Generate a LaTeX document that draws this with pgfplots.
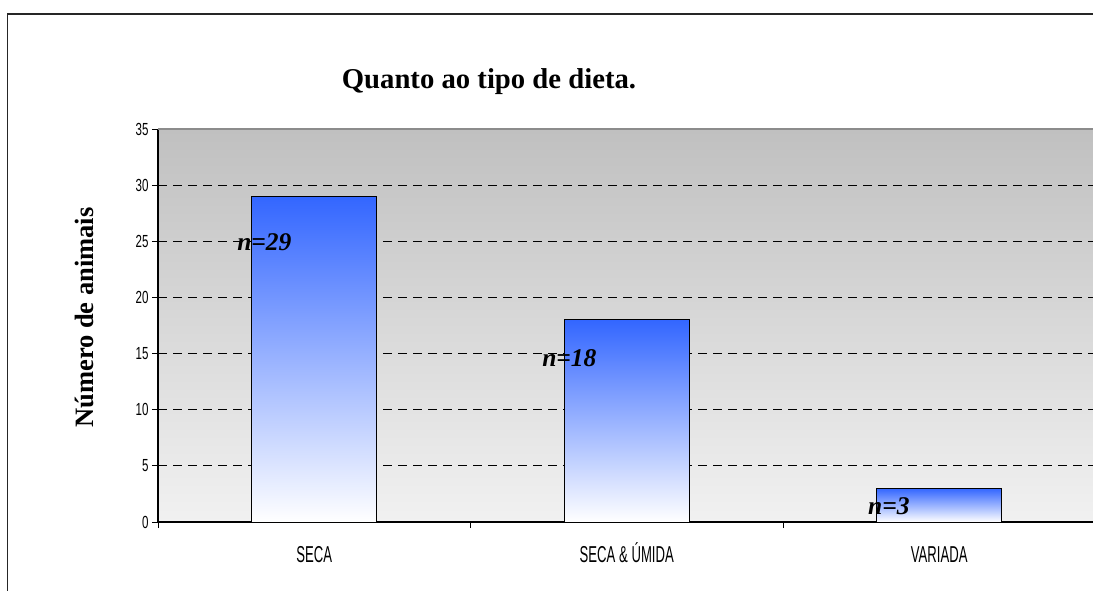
\documentclass[border=0pt]{standalone}
\usepackage{fontspec}
\setmainfont{Liberation Serif}
\newfontfamily\narrowsans[FakeStretch=0.66]{Liberation Sans}
\newfontfamily\narrowersans[FakeStretch=0.57]{Liberation Sans}
\usepackage{pgfplots}
\pgfplotsset{compat=1.18}
\definecolor{barblue}{RGB}{51,102,255}
\definecolor{bgtop}{RGB}{192,192,192}
\definecolor{bgbot}{RGB}{241,241,241}
\begin{document}
\begin{tikzpicture}[x=1pt,y=1pt]
\useasboundingbox (0pt,0pt) rectangle (1093pt,590pt);
\fill[white] (0pt,0pt) rectangle (1093pt,590pt);
\clip (0pt,0pt) rectangle (1093pt,590pt);
\draw[line width=1.6pt, black!85] (7.5pt,-20pt) -- (7.5pt,576pt) -- (1120pt,576pt);
\node[font=\fontsize{28.7}{30}\selectfont\bfseries, anchor=base] at (489pt,501pt) {Quanto ao tipo de dieta.};
\node[rotate=90, font=\fontsize{26.5}{28}\selectfont\bfseries, anchor=base] at (93pt,272.5pt) {Número de animais};
\begin{axis}[
  at={(158pt,68pt)}, anchor=south west, scale only axis,
  width=937.5pt, height=393pt,
  xmin=-0.5, xmax=2.5, ymin=0, ymax=35,
  axis x line*=bottom, axis y line*=left,
  axis line style={black, line width=1.2pt},
  axis background/.style={shade, top color=bgtop, bottom color=bgbot},
  ytick={0,5,...,35},
  /pgf/number format/assume math mode=true,
  yticklabel style={font=\narrowsans\fontsize{17.5}{18}\selectfont},
  xtick={-0.5,0.5,1.5,2.5}, xticklabels={},
  tick align=outside, major tick length=6pt,
  tick style={black, line width=1pt},
  extra x ticks={0,1,2},
  extra x tick labels={SECA,SECA\,\& ÚMIDA,VARIADA},
  extra x tick style={major tick length=0pt, grid=none,
     xticklabel style={anchor=base, yshift=-40pt, font=\narrowersans\fontsize{23}{24}\selectfont}},
  ymajorgrids,
  major grid style={black, dash pattern=on 9pt off 6pt, line width=0.8pt},
  clip=false,
]
\addplot[ybar, bar width=0.4, bar shift=0pt, draw=black, line width=1pt,
  top color=barblue, middle color=barblue!45!white, bottom color=white] coordinates {(0,29)};
\addplot[ybar, bar width=0.4, bar shift=0pt, draw=black, line width=1pt,
  top color=barblue, middle color=barblue!45!white, bottom color=white] coordinates {(1,18)};
\addplot[ybar, bar width=0.4, bar shift=0pt, draw=black, line width=1pt,
  top color=barblue, middle color=barblue!45!white, bottom color=white] coordinates {(2,3)};
\draw[line width=1.2pt, black!45] (rel axis cs:0,1) -- (rel axis cs:1,1);
\node[font=\fontsize{25.5}{27}\selectfont\bfseries\itshape, anchor=base west, inner sep=0pt] at (axis cs:-0.247,24.2) {n=29};
\node[font=\fontsize{25.5}{27}\selectfont\bfseries\itshape, anchor=base west, inner sep=0pt] at (axis cs:0.729,13.84) {n=18};
\node[font=\fontsize{25.5}{27}\selectfont\bfseries\itshape, anchor=base west, inner sep=0pt] at (axis cs:1.772,0.625) {n=3};
\end{axis}
\end{tikzpicture}
\end{document}
